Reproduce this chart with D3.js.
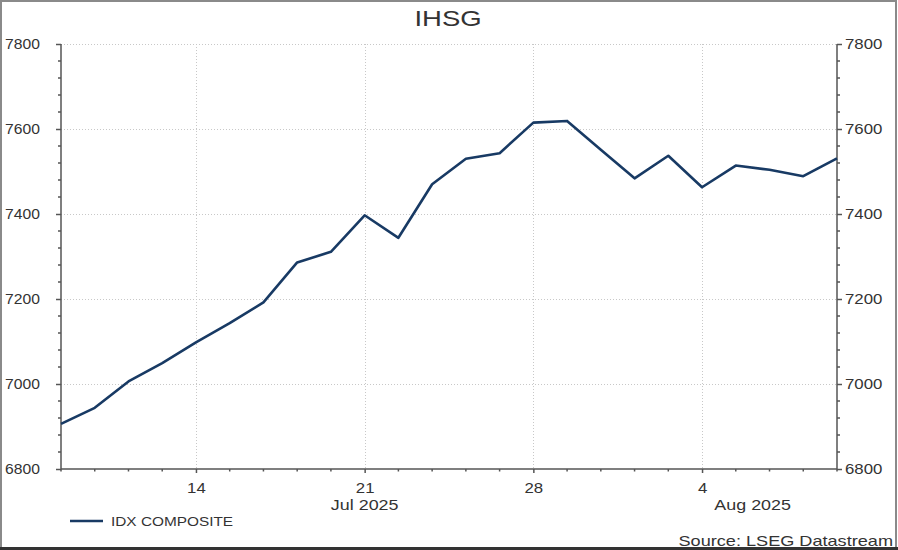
<!DOCTYPE html>
<html>
<head>
<meta charset="utf-8">
<script src="https://cdn.jsdelivr.net/npm/d3@7"></script>
<style>
  html, body { margin: 0; padding: 0; background: #fff; }
  svg { display: block; font-family: "Liberation Sans", Arial, sans-serif; }
</style>
</head>
<body>
<svg id="chart" width="898" height="550"></svg>
<script>
// ---- data ----
const title = "IHSG";
const seriesName = "IDX COMPOSITE";
const source = "Source: LSEG Datastream";
const dates = ["2025-07-08","2025-07-09","2025-07-10","2025-07-11",
  "2025-07-14","2025-07-15","2025-07-16","2025-07-17","2025-07-18",
  "2025-07-21","2025-07-22","2025-07-23","2025-07-24","2025-07-25",
  "2025-07-28","2025-07-29","2025-07-30","2025-07-31","2025-08-01",
  "2025-08-04","2025-08-05","2025-08-06","2025-08-07","2025-08-08"];
const values = [6906, 6944, 7006, 7049,
  7098, 7143, 7192, 7286, 7311,
  7397, 7344, 7470, 7530, 7543,
  7615, 7619, 7551, 7484, 7537,
  7463, 7514, 7504, 7489, 7531];
const yTicks = [6800, 7000, 7200, 7400, 7600, 7800];
const yMinorStep = 40;
const yDomain = [6800, 7800];

// ---- layout ----
const W = 898, H = 550;
const m = { left: 61, right: 837, top: 44, bottom: 469 };
const svg = d3.select("#chart");
const parse = d3.timeParse("%Y-%m-%d");
const data = dates.map((d, i) => ({ date: parse(d), i, v: values[i] }));

const x = d3.scaleLinear().domain([0, data.length - 1]).range([m.left, m.right]);
const y = d3.scaleLinear().domain(yDomain).range([m.bottom, m.top]);

const textCol = "#333";
const gridCol = "#c8c8c8";
const axisCol = "#555";
const lineCol = "#183a64";

// text with horizontal stretch (reference glyphs are wider than tall)
function stretchText(g, px, py, sx, str, size, anchor) {
  return g.append("text")
    .attr("transform", `translate(${px},${py}) scale(${sx},1)`)
    .attr("text-anchor", anchor || "start")
    .attr("font-size", size).attr("fill", textCol).text(str);
}
function stretchTicks(g, sx) {
  g.selectAll(".tick text").each(function () {
    const t = d3.select(this);
    const tx = +t.attr("x") || 0;
    t.attr("x", 0).attr("transform", `translate(${tx},0) scale(${sx},1)`);
  });
}

// frame
svg.append("rect").attr("x", 1).attr("y", 1).attr("width", W - 3).attr("height", H - 3)
  .attr("fill", "none").attr("stroke", "#8a8a8a").attr("stroke-width", 2);
svg.append("line").attr("x1", 0).attr("x2", W).attr("y1", H - 1.5).attr("y2", H - 1.5)
  .attr("stroke", "#333").attr("stroke-width", 3);

// title
stretchText(svg, 448, 26, 1.25, title, 22, "middle");

// mondays (week starts) for major x ticks
const mondays = data.filter(d => d.date.getDay() === 1);

// grid
const grid = svg.append("g");
grid.selectAll("line.h").data(yTicks.filter(t => t > yDomain[0])).enter().append("line")
  .attr("x1", m.left).attr("x2", m.right)
  .attr("y1", d => Math.round(y(d)) + 0.5).attr("y2", d => Math.round(y(d)) + 0.5)
  .attr("stroke", gridCol).attr("stroke-dasharray", "1,2");
grid.selectAll("line.v").data(mondays).enter().append("line")
  .attr("x1", d => Math.round(x(d.i)) + 0.5).attr("x2", d => Math.round(x(d.i)) + 0.5)
  .attr("y1", m.top).attr("y2", m.bottom)
  .attr("stroke", gridCol).attr("stroke-dasharray", "1,2");

// y axes
const yMinor = d3.range(yDomain[0], yDomain[1] + 1, yMinorStep);
const leftAxis = d3.axisLeft(y).tickValues(yTicks).tickSize(5).tickPadding(16).tickFormat(d3.format("d"));
const rightAxis = d3.axisRight(y).tickValues(yTicks).tickSize(5).tickPadding(3).tickFormat(d3.format("d"));
const gl = svg.append("g").attr("transform", `translate(${m.left},0)`).call(leftAxis);
const gr = svg.append("g").attr("transform", `translate(${m.right},0)`).call(rightAxis);
[gl, gr].forEach((g, k) => {
  g.select(".domain").attr("stroke", axisCol).attr("stroke-width", 1.5)
    .attr("d", `M0,${m.bottom}V${m.top}`);
  g.selectAll(".tick line").attr("stroke", axisCol).attr("stroke-width", 1.5);
  g.selectAll(".tick text").attr("font-size", 14).attr("fill", textCol)
    .attr("font-family", "'Liberation Sans', Arial, sans-serif");
  stretchTicks(g, k === 0 ? 1.12 : 1.2);
});
const minorVals = yMinor.filter(v => !yTicks.includes(v));
svg.append("g").selectAll("line").data(minorVals).enter().append("line")
  .attr("x1", m.left - 3).attr("x2", m.left).attr("y1", d => y(d)).attr("y2", d => y(d))
  .attr("stroke", axisCol).attr("stroke-width", 1.5);
svg.append("g").selectAll("line").data(minorVals).enter().append("line")
  .attr("x1", m.right).attr("x2", m.right + 3).attr("y1", d => y(d)).attr("y2", d => y(d))
  .attr("stroke", axisCol).attr("stroke-width", 1.5);

// x axis
const xAxis = d3.axisBottom(x).tickValues(mondays.map(d => d.i)).tickSize(4).tickPadding(10)
  .tickFormat(i => d3.timeFormat("%-d")(data[i].date));
const gx = svg.append("g").attr("transform", `translate(0,${m.bottom})`).call(xAxis);
gx.select(".domain").attr("stroke", axisCol).attr("stroke-width", 1.5).attr("d", `M${m.left},0H${m.right}`);
gx.selectAll(".tick line").attr("stroke", axisCol).attr("stroke-width", 1.5);
gx.selectAll(".tick text").attr("font-size", 14).attr("fill", textCol)
  .attr("font-family", "'Liberation Sans', Arial, sans-serif");
stretchTicks(gx, 1.2);
svg.append("g").selectAll("line").data(data.filter(d => d.date.getDay() !== 1)).enter().append("line")
  .attr("x1", d => x(d.i)).attr("x2", d => x(d.i))
  .attr("y1", m.bottom).attr("y2", m.bottom + 2.5)
  .attr("stroke", axisCol).attr("stroke-width", 1.5);

// month labels centred on month spans
const months = d3.groups(data, d => d3.timeFormat("%b %Y")(d.date));
months.forEach(([label, arr], k) => {
  const start = x(arr[0].i);
  const end = k < months.length - 1 ? x(months[k + 1][1][0].i) : x(arr[arr.length - 1].i);
  stretchText(svg, (start + end) / 2, 510, 1.28, label, 14, "middle");
});

// line
const line = d3.line().x(d => x(d.i)).y(d => y(d.v));
svg.append("path").datum(data).attr("d", line).attr("fill", "none")
  .attr("stroke", lineCol).attr("stroke-width", 2.6).attr("stroke-linejoin", "round");

// legend
svg.append("line").attr("x1", 70).attr("x2", 103).attr("y1", 521).attr("y2", 521)
  .attr("stroke", lineCol).attr("stroke-width", 2.6);
stretchText(svg, 111, 525.5, 1.23, seriesName, 12.5, "start");

// source
stretchText(svg, 893, 546, 1.25, source, 14.5, "end");
</script>
</body>
</html>
